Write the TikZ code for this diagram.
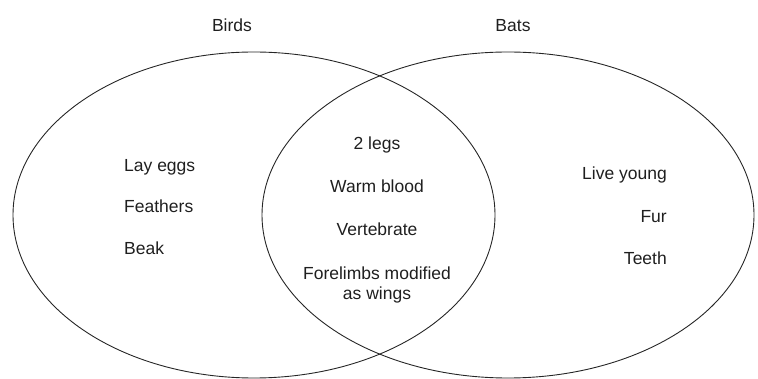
\documentclass[tikz,border=0pt]{standalone}
\usepackage{fontspec}
\setmainfont{Liberation Sans}
\usetikzlibrary{shapes.geometric}
\begin{document}
\begin{tikzpicture}[x=1pt,y=-1pt,
  setbox/.style={draw=black!85, line width=0.9pt, ellipse, inner sep=0pt},
  lbl/.style={font=\fontsize{17.5}{20}\selectfont, text=black!88, inner sep=0pt},
]
\useasboundingbox (0,0) rectangle (758,379);
\begin{scope}
\clip (0,0) rectangle (758,379);
\node[setbox, minimum width=482pt, minimum height=326pt] (birdset) at (254,215) {};
\node[setbox, minimum width=492pt, minimum height=326pt] (batset) at (508,215) {};
\end{scope}
\node[lbl, anchor=base] (birds) at (232,32) {Birds};
\node[lbl, anchor=base] (bats) at (513,32) {Bats};
% birds only
\node[lbl, anchor=base west] (lay) at (124,172) {Lay eggs};
\node[lbl, anchor=base west] (feath) at (124,213) {Feathers};
\node[lbl, anchor=base west] (beak) at (124,255) {Beak};
% both
\node[lbl, anchor=base] (legs) at (377,150) {2 legs};
\node[lbl, anchor=base] (warm) at (377,193) {Warm blood};
\node[lbl, anchor=base] (vert) at (377,236) {Vertebrate};
\node[lbl, anchor=base] (fore) at (377,280) {Forelimbs modified};
\node[lbl, anchor=base] (aswings) at (377,300) {as wings};
% bats only
\node[lbl, anchor=base east] (live) at (667,180) {Live young};
\node[lbl, anchor=base east] (fur) at (667,223) {Fur};
\node[lbl, anchor=base east] (teeth) at (667,265) {Teeth};
\end{tikzpicture}
\end{document}
